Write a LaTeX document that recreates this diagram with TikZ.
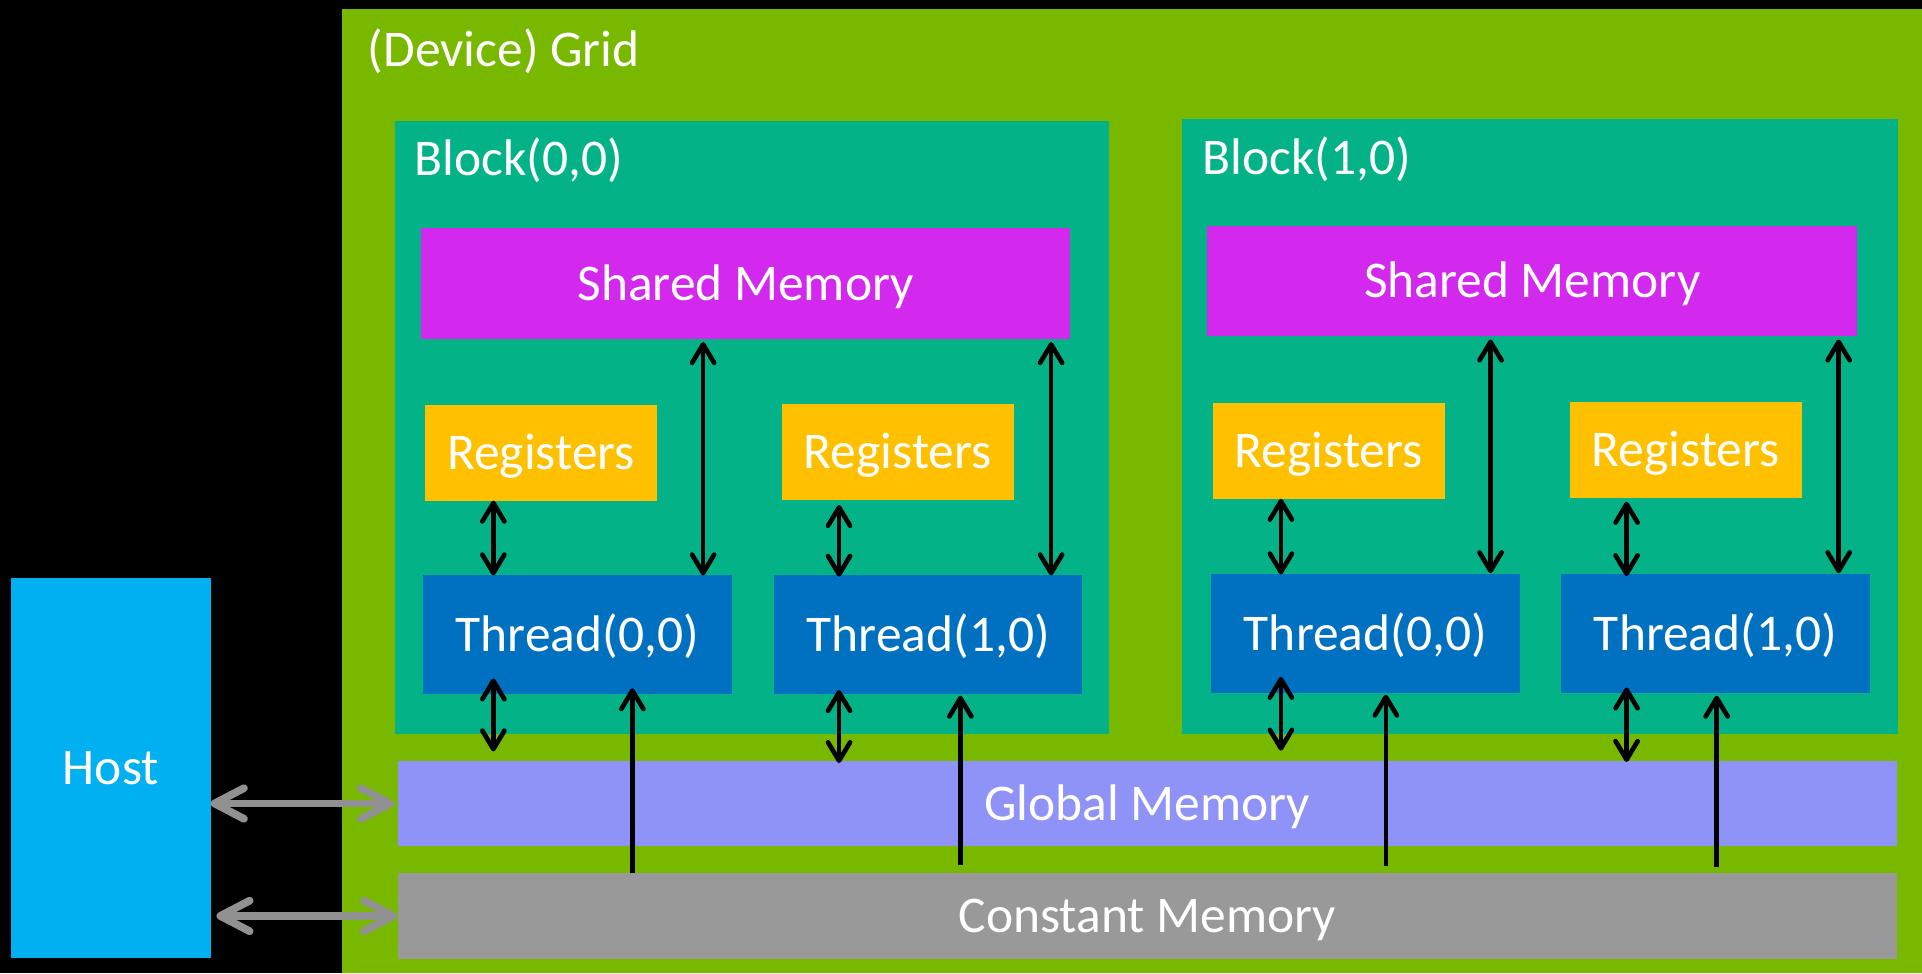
\documentclass[tikz,border=0pt]{standalone}
\usepackage{fontspec}
\setmainfont{Carlito}
\usetikzlibrary{arrows.meta}

\definecolor{gridgreen}{RGB}{120,185,0}
\definecolor{blockteal}{RGB}{3,179,135}
\definecolor{shmmag}{RGB}{211,41,238}
\definecolor{regamber}{RGB}{255,192,0}
\definecolor{thrblue}{RGB}{0,112,192}
\definecolor{globlav}{RGB}{143,147,247}
\definecolor{constgray}{RGB}{153,153,153}
\definecolor{hostcyan}{RGB}{0,176,240}
\definecolor{linkgray}{RGB}{145,145,145}

\tikzset{
  barb/.tip={Straight Barb[length=15pt,width=18pt,round]},
  gbarb/.tip={Straight Barb[length=24pt,width=25pt,round]},
  txt/.style={text=white, font=\fontsize{42}{50}\selectfont},
  memblock/.style={rectangle, inner sep=0pt, outer sep=0pt, txt, text height=27pt, text depth=0pt},
  bi/.style={draw=black, line width=3.8pt, barb-barb},
  uni/.style={draw=black, line width=3.8pt, -barb},
  gbi/.style={draw=linkgray, line width=6.3pt, gbarb-gbarb},
}

\begin{document}
\begin{tikzpicture}[x=1pt,y=-1pt]
  % canvas
  \fill[black] (0,0) rectangle (1568,794);
  \useasboundingbox (0,0) rectangle (1568,794);

  % device grid and blocks
  \node[memblock, fill=gridgreen, minimum width=1289pt, minimum height=787pt] (grid) at (923.5,400.5) {};
  \node[txt, anchor=base west, inner sep=0pt] (gridlbl) at (300,54.5) {(Device) Grid};

  \node[memblock, fill=blockteal, minimum width=583pt, minimum height=500pt] (blk0) at (613.5,349) {};
  \node[txt, anchor=base west, inner sep=0pt] (blk0lbl) at (338,143) {Block(0,0)};
  \node[memblock, fill=blockteal, minimum width=584pt, minimum height=502pt] (blk1) at (1256,348) {};
  \node[txt, anchor=base west, inner sep=0pt] (blk1lbl) at (981,142) {Block(1,0)};

  % shared memories
  \node[memblock, fill=shmmag, minimum width=529.5pt, minimum height=90.6pt] (s0) at (608.25,231.3) {Shared Memory};
  \node[memblock, fill=shmmag, minimum width=530pt, minimum height=90pt] (s1) at (1250,229) {Shared Memory};

  % registers
  \node[memblock, fill=regamber, minimum width=189pt, minimum height=78pt] (r00) at (441.3,369.45) {Registers};
  \node[memblock, fill=regamber, minimum width=189pt, minimum height=78pt] (r01) at (732.4,368.6) {Registers};
  \node[memblock, fill=regamber, minimum width=189pt, minimum height=78pt] (r10) at (1084,368) {Registers};
  \node[memblock, fill=regamber, minimum width=189pt, minimum height=78pt] (r11) at (1375.2,367) {Registers};

  % threads
  \node[memblock, fill=thrblue, minimum width=252pt, minimum height=96.6pt] (t00) at (471,517.7) {Thread(0,0)};
  \node[memblock, fill=thrblue, minimum width=251.5pt, minimum height=96.6pt] (t01) at (757.25,517.7) {Thread(1,0)};
  \node[memblock, fill=thrblue, minimum width=252pt, minimum height=96.6pt] (t10) at (1113.9,516.9) {Thread(0,0)};
  \node[memblock, fill=thrblue, minimum width=252pt, minimum height=96.6pt] (t11) at (1399.45,516.9) {Thread(1,0)};

  % global and constant memory, host
  \node[memblock, fill=globlav, minimum width=1223pt, minimum height=69pt] (gm) at (936,655.5) {Global Memory};
  \node[memblock, fill=constgray, minimum width=1223pt, minimum height=69.5pt] (cm) at (936,747.25) {Constant Memory};
  \node[memblock, fill=hostcyan, minimum width=162.8pt, minimum height=310pt] (host) at (90.5,626.8) {Host};

  % connector columns
  \coordinate (xa) at (402.5,0);
  \coordinate (xb) at (573.6,0);
  \coordinate (xc) at (515.9,0);
  \coordinate (xd) at (684.5,0);
  \coordinate (xe) at (857.5,0);
  \coordinate (xf) at (783.5,0);
  \coordinate (xg) at (1045,0);
  \coordinate (xh) at (1216,0);
  \coordinate (xi) at (1130.6,0);
  \coordinate (xj) at (1327,0);
  \coordinate (xk) at (1500,0);
  \coordinate (xl) at (1400.5,0);

  % block (0,0)
  \draw[bi] (r00.south -| xa) -- (t00.north -| xa);
  \draw[bi, shorten <=2.5pt] (s0.south -| xb) -- (t00.north -| xb);
  \draw[bi, shorten <=-12.5pt, shorten >=8pt] (t00.south -| xa) -- (gm.north -| xa);
  \draw[uni, shorten >=-4.5pt] (cm.north -| xc) -- (t00.south -| xc);
  \draw[bi, shorten <=4.4pt, shorten >=-1.1pt] (r01.south -| xd) -- (t01.north -| xd);
  \draw[bi, shorten <=2.5pt] (s0.south -| xe) -- (t01.north -| xe);
  \draw[bi, shorten <=-3pt, shorten >=-1.5pt] (t01.south -| xd) -- (gm.north -| xd);
  \draw[uni, shorten <=6.5pt, shorten >=1.6pt] (cm.north -| xf) -- (t01.south -| xf);

  % block (1,0)
  \draw[bi] (r10.south -| xg) -- (t10.north -| xg);
  \draw[bi, shorten <=3pt, shorten >=1pt] (s1.south -| xh) -- (t10.north -| xh);
  \draw[bi, shorten <=-13pt, shorten >=8.6pt] (t10.south -| xg) -- (gm.north -| xg);
  \draw[uni, shorten <=6.2pt, shorten >=1.5pt] (cm.north -| xi) -- (t10.south -| xi);
  \draw[bi, shorten <=3.4pt, shorten >=-1.4pt] (r11.south -| xj) -- (t11.north -| xj);
  \draw[bi, shorten <=3pt, shorten >=1pt] (s1.south -| xk) -- (t11.north -| xk);
  \draw[bi, shorten <=-4.3pt, shorten >=-0.6pt] (t11.south -| xj) -- (gm.north -| xj);
  \draw[uni, shorten <=5.4pt, shorten >=2.4pt] (cm.north -| xl) -- (t11.south -| xl);

  % host links
  \draw[gbi, shorten >=3pt] (host.east |- gm.west) -- (gm.west);
  \draw[gbi, shorten <=4.7pt, shorten >=0.5pt] (host.east |- cm.west) -- (cm.west);
\end{tikzpicture}
\end{document}
